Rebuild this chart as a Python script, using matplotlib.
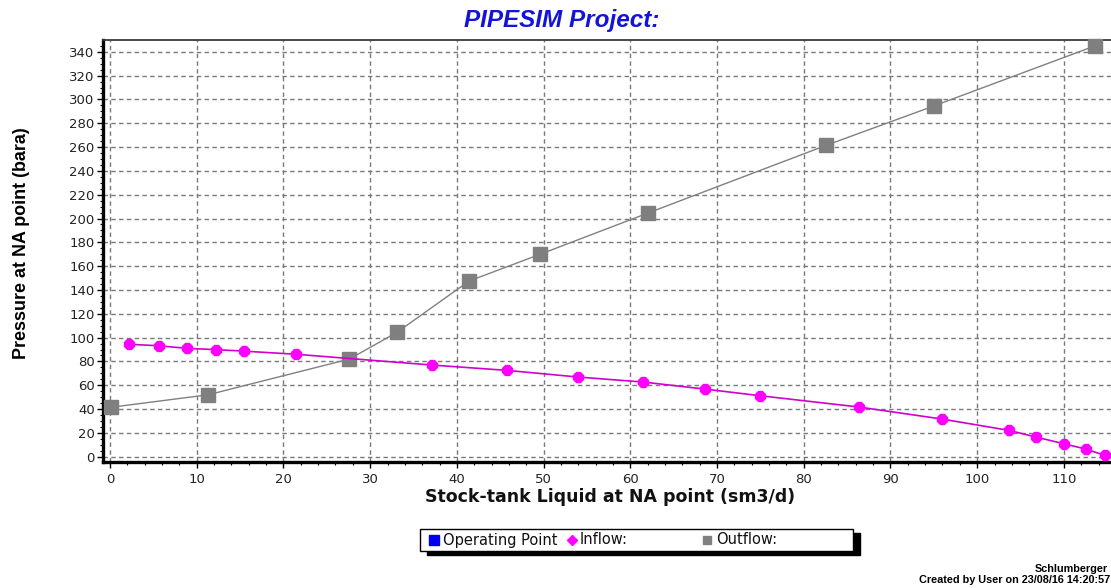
import matplotlib
matplotlib.use("Agg")
import matplotlib.pyplot as plt
from matplotlib.lines import Line2D
from matplotlib.patches import Rectangle
from matplotlib.ticker import MultipleLocator

# Inflow (IPR) curve
inflow_q = [2.2, 5.6, 8.9, 12.2, 15.4, 21.5, 37.1, 45.8, 54.0, 61.5, 68.6,
            75.0, 86.4, 95.9, 103.7, 106.8, 110.0, 112.5, 114.7]
inflow_p = [94.4, 93.2, 91.0, 89.9, 88.7, 86.0, 77.0, 72.5, 66.9, 62.7, 56.8,
            51.2, 41.7, 31.7, 22.1, 16.5, 10.9, 6.5, 1.2]

# Outflow (VLP) curve
outflow_q = [0.1, 11.3, 27.6, 33.1, 41.4, 49.6, 62.0, 82.6, 95.0, 113.6]
outflow_p = [41.5, 52.0, 82.0, 104.5, 147.5, 170.0, 204.5, 261.5, 294.5, 345.0]

x_ticks = list(range(0, 111, 10))
y_ticks = list(range(0, 341, 20))

title = "PIPESIM Project:"
x_label = "Stock-tank Liquid at NA point (sm3/d)"
y_label = "Pressure at NA point (bara)"
legend_labels = ["Operating Point", "Inflow:", "Outflow:"]

W, H = 1111, 588
plt.rcParams['font.family'] = ['DejaVu Sans']
fig = plt.figure(figsize=(W / 100, H / 100), dpi=100)

ARIAL = ['Liberation Sans', 'DejaVu Sans']
TAHOMA = ['DejaVu Sans']


def fx(px):
    return px / W


def fy(py):
    return 1 - py / H


left, top, bottom = 103, 40, 461.5
right = 1112
ax = fig.add_axes([fx(left), fy(bottom), fx(right - left), fy(top) - fy(bottom)])
ax.set_xlim(-0.81, 115.55)
ax.set_ylim(-4.0, 349.9)

ax.set_xticks(x_ticks)
ax.set_yticks(y_ticks)
ax.xaxis.set_minor_locator(MultipleLocator(2))
ax.yaxis.set_minor_locator(MultipleLocator(5))
ax.tick_params(axis='both', which='major', direction='out', length=4, width=1,
               labelsize=9.5, colors='black')
ax.tick_params(axis='x', which='major', pad=4)
ax.tick_params(axis='y', which='major', pad=2)
ax.tick_params(axis='both', which='minor', direction='out', length=2.5, width=0.8)
for lab in ax.get_xticklabels() + ax.get_yticklabels():
    lab.set_family(TAHOMA)
    lab.set_color('#222222')

ax.grid(True, which='major', color='#7a7a7a', linestyle=(0, (3.2, 2.4)), linewidth=1.0)
ax.set_axisbelow(True)

for side in ('left', 'bottom'):
    ax.spines[side].set_linewidth(2.4)
    ax.spines[side].set_color('black')
ax.spines['top'].set_linewidth(1.3)
ax.spines['top'].set_color('#3a3a3a')
ax.spines['right'].set_visible(False)

ax.plot(outflow_q, outflow_p, color='#808080', linewidth=1.0, marker='s',
        markersize=9.5, markerfacecolor='#7f7f7f', markeredgecolor='#7f7f7f',
        zorder=3, clip_on=False)
ax.plot(inflow_q, inflow_p, color='#d000d0', linewidth=1.2, marker='8',
        markersize=8, markerfacecolor='#ff00ff', markeredgecolor='#ff00ff',
        zorder=4, clip_on=False)

fig.text(fx(562), fy(20), title, ha='center', va='center', fontsize=17.5,
         fontweight='bold', fontstyle='italic', color='#1414d8', family=ARIAL)
fig.text(fx(610), fy(497), x_label, ha='center', va='center', fontsize=12.5,
         fontweight='bold', family=TAHOMA, color='#111111')
fig.text(fx(22), fy(243), y_label, ha='center', va='center', fontsize=12.9,
         fontweight='bold', rotation=90, family=ARIAL)

# Legend box with a hard drop shadow
bx0, by0, bx1, by1 = 420, 529, 853, 551
fig.patches.append(Rectangle((fx(bx0 + 7), fy(by1 + 4)), fx(bx1 - bx0), fy(by0) - fy(by1),
                             transform=fig.transFigure, facecolor='black',
                             edgecolor='black', zorder=1))
fig.patches.append(Rectangle((fx(bx0), fy(by1)), fx(bx1 - bx0), fy(by0) - fy(by1),
                             transform=fig.transFigure, facecolor='white',
                             edgecolor='black', linewidth=1.0, zorder=2))
ly = fy(540)
legend_items = [
    (434, 443, 's', '#0000ee', 7, legend_labels[0]),
    (572, 580, 'D', '#ff00ff', 5.5, legend_labels[1]),
    (707, 716, 's', '#808080', 6, legend_labels[2]),
]
for mx, tx, mk, col, ms, lab in legend_items:
    fig.add_artist(Line2D([fx(mx)], [ly], transform=fig.transFigure, marker=mk,
                          color=col, markersize=ms, linestyle='none', zorder=3))
    fig.text(fx(tx), ly, lab, ha='left', va='center', fontsize=10.5, zorder=3,
             family=TAHOMA, color='#111111')

fig.text(fx(1108), fy(569), "Schlumberger", ha='right', va='center', fontsize=7.8,
         fontweight='bold', family=ARIAL)
fig.text(fx(1110), fy(580), "Created by User on 23/08/16 14:20:57", ha='right',
         va='center', fontsize=7.8, fontweight='bold', family=ARIAL)

fig.savefig("out.png", dpi=100)
